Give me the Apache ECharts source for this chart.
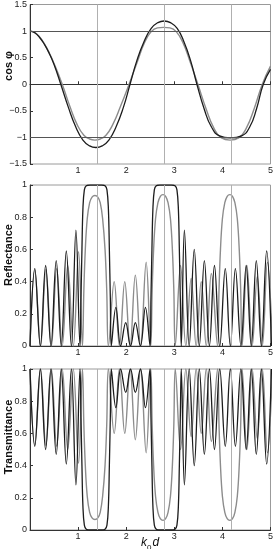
<!DOCTYPE html>
<html><head><meta charset="utf-8">
<script src="https://cdn.jsdelivr.net/npm/echarts@6/dist/echarts.min.js"></script>
<style>html,body{margin:0;padding:0;background:#fff}#c{width:276px;height:549px}</style>
</head><body><div id="c"></div>
<script>
// ---- data (x = k0 d) ----
const bandCenters = [1.39, 2.79, 4.18];
const cosLevels = [1, -1];
const xTickLabels = ['1', '2', '3', '4', '5'];
const cosTicks = [-1.5, -1, -0.5, 0, 0.5, 1, 1.5];
const fracTicks = [0, 0.2, 0.4, 0.6, 0.8, 1];

const cosBlack = [[0,1],[0.1,0.97],[0.2,0.88],[0.3,0.75],[0.4,0.58],[0.5,0.37],[0.64,0],[0.8,-0.44],[0.95,-0.8],[1.1,-1.05],[1.24,-1.16],[1.37,-1.19],[1.5,-1.16],[1.64,-1.05],[1.79,-0.8],[1.94,-0.44],[2.08,0],[2.22,0.44],[2.37,0.8],[2.52,1.05],[2.66,1.16],[2.79,1.19],[2.92,1.16],[3.06,1.05],[3.2,0.8],[3.34,0.44],[3.47,0],[3.62,-0.46],[3.77,-0.8],[3.94,-0.97],[4.17,-1.01],[4.4,-0.97],[4.57,-0.8],[4.71,-0.46],[4.85,0],[5,0.28]];
const cosGray = [[0,1],[0.1,0.97],[0.2,0.89],[0.3,0.76],[0.4,0.59],[0.5,0.39],[0.67,0],[0.83,-0.42],[0.98,-0.76],[1.12,-0.96],[1.24,-1.03],[1.35,-1.05],[1.46,-1.03],[1.58,-0.96],[1.72,-0.76],[1.88,-0.42],[2.06,0],[2.23,0.42],[2.38,0.78],[2.52,0.99],[2.65,1.06],[2.78,1.07],[2.91,1.06],[3.04,0.99],[3.18,0.78],[3.33,0.42],[3.49,0],[3.66,-0.46],[3.82,-0.82],[3.98,-1.01],[4.16,-1.05],[4.34,-1.01],[4.5,-0.82],[4.66,-0.46],[4.83,0],[5,0.34]];

const rBlack = [[0,0],[0.10,0.48],[0.215,0],[0.325,0.50],[0.435,0],[0.545,0.53],[0.65,0],[0.755,0.59],[0.86,0],[0.955,0.72],[1.04,0],
  [1.06,0.3],[1.08,0.6],[1.10,0.85],[1.13,0.97],[1.17,0.995],[1.25,1],[1.37,1],[1.49,1],[1.56,0.995],[1.60,0.97],[1.63,0.85],[1.65,0.6],[1.67,0.3],[1.69,0],
  [1.785,0.24],[1.885,0],[1.99,0.145],[2.09,0],[2.19,0.145],[2.295,0],[2.40,0.24],[2.495,0],
  [2.515,0.3],[2.535,0.6],[2.555,0.85],[2.585,0.97],[2.625,0.995],[2.70,1],[2.82,1],[2.94,1],[3.015,0.995],[3.055,0.97],[3.085,0.85],[3.105,0.6],[3.125,0.3],[3.145,0],
  [3.21,0.72],[3.31,0],[3.415,0.60],[3.52,0],[3.625,0.53],[3.73,0],[3.835,0.50],[3.945,0],[4.06,0.48],[4.165,0],[4.27,0.48],[4.385,0],[4.495,0.50],[4.60,0],[4.705,0.53],[4.81,0],[4.92,0.59],[5.02,0]];
const rGray = [[0,0],[0.10,0.47],[0.22,0],[0.33,0.475],[0.445,0],[0.555,0.48],[0.67,0],[0.785,0.50],[0.90,0],[1.01,0.585],[1.09,0],
  [1.12,0.35],[1.15,0.6],[1.19,0.79],[1.24,0.89],[1.29,0.925],[1.35,0.935],[1.41,0.925],[1.46,0.89],[1.51,0.79],[1.56,0.6],[1.595,0.35],[1.63,0],
  [1.75,0.40],[1.86,0],[1.97,0.40],[2.08,0],[2.19,0.44],[2.30,0],[2.415,0.52],[2.51,0],
  [2.54,0.35],[2.57,0.6],[2.61,0.79],[2.66,0.89],[2.71,0.93],[2.765,0.94],[2.82,0.93],[2.87,0.89],[2.92,0.79],[2.96,0.6],[2.99,0.35],[3.02,0],
  [3.13,0.50],[3.24,0],[3.35,0.42],[3.455,0],[3.56,0.40],[3.665,0],[3.77,0.45],[3.90,0],
  [3.93,0.35],[3.96,0.6],[4.00,0.79],[4.05,0.89],[4.10,0.93],[4.155,0.94],[4.21,0.93],[4.26,0.89],[4.31,0.79],[4.35,0.6],[4.38,0.35],[4.41,0],
  [4.51,0.50],[4.62,0],[4.725,0.43],[4.83,0],[4.935,0.52],[5.04,0]];
const tBlack = [[0,1],[0.10,0.52],[0.215,1],[0.325,0.50],[0.435,1],[0.545,0.47],[0.65,1],[0.755,0.41],[0.86,1],[0.955,0.28],[1.04,1],
  [1.06,0.7],[1.08,0.4],[1.10,0.15],[1.13,0.03],[1.17,0.005],[1.25,0],[1.37,0],[1.49,0],[1.56,0.005],[1.60,0.03],[1.63,0.15],[1.65,0.4],[1.67,0.7],[1.69,1],
  [1.785,0.76],[1.885,1],[1.99,0.855],[2.09,1],[2.19,0.855],[2.295,1],[2.40,0.76],[2.495,1],
  [2.515,0.7],[2.535,0.4],[2.555,0.15],[2.585,0.03],[2.625,0.005],[2.70,0],[2.82,0],[2.94,0],[3.015,0.005],[3.055,0.03],[3.085,0.15],[3.105,0.4],[3.125,0.7],[3.145,1],
  [3.21,0.28],[3.31,1],[3.415,0.40],[3.52,1],[3.625,0.47],[3.73,1],[3.835,0.50],[3.945,1],[4.06,0.52],[4.165,1],[4.27,0.52],[4.385,1],[4.495,0.50],[4.60,1],[4.705,0.47],[4.81,1],[4.92,0.41],[5.02,1]];
const tGray = [[0,1],[0.10,0.53],[0.22,1],[0.33,0.525],[0.445,1],[0.555,0.52],[0.67,1],[0.785,0.50],[0.90,1],[1.01,0.415],[1.09,1],
  [1.12,0.65],[1.15,0.4],[1.19,0.21],[1.24,0.11],[1.29,0.075],[1.35,0.065],[1.41,0.075],[1.46,0.11],[1.51,0.21],[1.56,0.4],[1.595,0.65],[1.63,1],
  [1.75,0.60],[1.86,1],[1.97,0.60],[2.08,1],[2.19,0.56],[2.30,1],[2.415,0.48],[2.51,1],
  [2.54,0.65],[2.57,0.4],[2.61,0.21],[2.66,0.11],[2.71,0.07],[2.765,0.06],[2.82,0.07],[2.87,0.11],[2.92,0.21],[2.96,0.4],[2.99,0.65],[3.02,1],
  [3.13,0.50],[3.24,1],[3.35,0.58],[3.455,1],[3.56,0.60],[3.665,1],[3.77,0.55],[3.90,1],
  [3.93,0.65],[3.96,0.4],[4.00,0.21],[4.05,0.11],[4.10,0.07],[4.155,0.06],[4.21,0.07],[4.26,0.11],[4.31,0.21],[4.35,0.4],[4.38,0.65],[4.41,1],
  [4.51,0.50],[4.62,1],[4.725,0.57],[4.83,1],[4.935,0.48],[5.04,1]];

// ---- chart ----
const FONT = 'Liberation Sans';
const BLACK = '#1c1c1c', GRAY = '#8c8c8c';
const chart = echarts.init(document.getElementById('c'), null, {renderer: 'canvas'});
const grids = [
  {left: 30, right: 1, top: 3, height: 161},
  {left: 30, right: 1, top: 185, height: 161},
  {left: 30, right: 1, top: 369, height: 161}
];
const fmtNum = v => String(v).replace('-', '\u2212');
function xAx(i) {
  return {
    type: 'value', gridIndex: i, min: 0, max: 5, interval: 1,
    axisLine: {onZero: i === 0, lineStyle: {color: '#333', width: 1}},
    axisTick: {inside: true, length: 3, lineStyle: {color: '#333'}},
    axisLabel: {margin: 2, fontFamily: FONT, fontSize: 9, color: '#222',
      formatter: v => (v === 0 ? '' : xTickLabels[Math.round(v) - 1])},
    splitLine: {show: false}
  };
}
function yAx(i, ticks) {
  const mn = ticks[0], mx = ticks[ticks.length - 1];
  return {
    type: 'value', gridIndex: i, min: mn, max: mx, interval: ticks[1] - ticks[0],
    axisLine: {show: true, onZero: false, lineStyle: {color: '#333', width: 1}},
    axisTick: {inside: true, length: 3, lineStyle: {color: '#333'}},
    axisLabel: {margin: 3, fontFamily: FONT, fontSize: 9, color: '#222', formatter: fmtNum},
    splitLine: {show: false}
  };
}
const vLines = bandCenters.map(c => ({xAxis: c}));
function mk(extra) {
  return {silent: true, symbol: 'none', label: {show: false},
    lineStyle: {color: '#b0b0b0', width: 1, type: 'solid'},
    data: vLines.concat(extra || [])};
}
function line(data, color, i, w, sm, markLine) {
  const s = {type: 'line', data: data, xAxisIndex: i, yAxisIndex: i, showSymbol: false,
    smooth: sm, lineStyle: {color: color, width: w}, z: color === BLACK ? 3 : 2};
  if (markLine) s.markLine = markLine;
  return s;
}
const option = {
  animation: false,
  backgroundColor: '#fff',
  grid: grids.map(g => Object.assign({show: true, borderColor: '#9a9a9a', borderWidth: 1, backgroundColor: 'transparent'}, g)),
  xAxis: [xAx(0), xAx(1), xAx(2)],
  yAxis: [yAx(0, cosTicks), yAx(1, fracTicks), yAx(2, fracTicks)],
  series: [
    line(cosGray, GRAY, 0, 1.4, 0.5, mk(cosLevels.map(v => ({yAxis: v, lineStyle: {color: '#555', width: 1}})))),
    line(cosBlack, BLACK, 0, 1.3, 0.5),
    line(rGray, GRAY, 1, 1.4, 0.4, mk()),
    line(rBlack, BLACK, 1, 1.3, 0.4),
    line(tGray, GRAY, 2, 1.4, 0.4, mk()),
    line(tBlack, BLACK, 2, 1.3, 0.4)
  ],
  graphic: [
    {type: 'text', x: 9, y: 66, rotation: Math.PI / 2,
      style: {text: 'cos \u03c6', font: 'bold 11px ' + FONT, fill: '#111', align: 'center', verticalAlign: 'middle'}},
    {type: 'text', x: 9, y: 255, rotation: Math.PI / 2,
      style: {text: 'Reflectance', font: 'bold 11px ' + FONT, fill: '#111', align: 'center', verticalAlign: 'middle'}},
    {type: 'text', x: 9, y: 437, rotation: Math.PI / 2,
      style: {text: 'Transmittance', font: 'bold 11px ' + FONT, fill: '#111', align: 'center', verticalAlign: 'middle'}},
    {type: 'text', x: 141, y: 537,
      style: {text: '{i|k}{s|0}{i|d}', fill: '#111',
        rich: {i: {fontFamily: FONT, fontStyle: 'italic', fontSize: 12, verticalAlign: 'top', lineHeight: 14},
               s: {fontFamily: FONT, fontSize: 8, padding: [7, 1, 0, 0], lineHeight: 14}}}}
  ]
};
chart.setOption(option);
</script>
</body></html>
